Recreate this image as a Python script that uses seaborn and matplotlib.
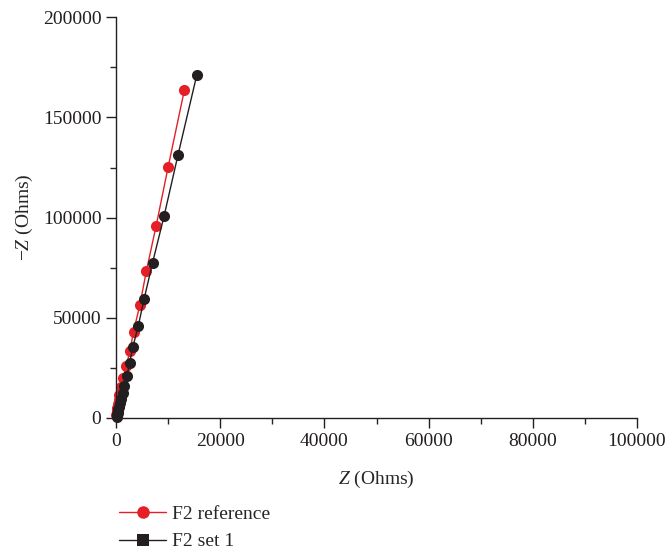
import pandas as pd
import matplotlib
matplotlib.use("Agg")
import matplotlib.pyplot as plt
from matplotlib.lines import Line2D
from matplotlib.ticker import MultipleLocator
import seaborn as sns

# Nyquist data (Ohms)
ref_x = [13100, 10000, 7700, 5840, 4560, 3350, 2640, 1950, 1380, 860,
         650, 480, 360, 270, 200, 150, 110, 80]
ref_y = [163500, 125300, 96000, 73600, 56300, 43100, 33200, 25800, 20000, 15200,
         11600, 8900, 6800, 5200, 4000, 3000, 2300, 1700]

set1_x = [15500, 11900, 9200, 7000, 5400, 4250, 3200, 2600, 2070, 1570,
          1250, 980, 760, 590, 460, 360, 280, 220, 170, 130, 100]
set1_y = [171200, 131400, 100600, 77400, 59600, 45800, 35200, 27300, 20800, 15900,
          12300, 9500, 7300, 5600, 4300, 3300, 2500, 1900, 1400, 1000, 700]

labels = ["F2 reference", "F2 set 1"]
red = "#e41f26"
black = "#231f20"

df_ref = pd.DataFrame({"Z": ref_x, "negZ": ref_y})
df_set1 = pd.DataFrame({"Z": set1_x, "negZ": set1_y})

sns.set_style("ticks")
plt.rcParams["font.family"] = ["Liberation Serif", "DejaVu Serif"]
plt.rcParams["mathtext.fontset"] = "custom"
plt.rcParams["mathtext.rm"] = "Liberation Serif"
plt.rcParams["mathtext.it"] = "Liberation Serif:italic"

fig = plt.figure(figsize=(6.67, 5.58), dpi=100)
ax = fig.add_axes([0.174, 0.251, 0.781, 0.718])

sns.lineplot(data=df_ref, x="Z", y="negZ", sort=False, color=red, marker="o",
             markersize=8, markeredgewidth=0, linewidth=1, ax=ax, clip_on=False)
sns.lineplot(data=df_set1, x="Z", y="negZ", sort=False, color=black, marker="o",
             markersize=8, markeredgewidth=0, linewidth=1, ax=ax, clip_on=False)

ax.set_xlim(0, 100000)
ax.set_ylim(0, 200000)
ax.xaxis.set_major_locator(MultipleLocator(20000))
ax.xaxis.set_minor_locator(MultipleLocator(10000))
ax.yaxis.set_major_locator(MultipleLocator(50000))
ax.yaxis.set_minor_locator(MultipleLocator(25000))
ax.tick_params(which="major", length=7, width=1, labelsize=14, colors="#231f20")
ax.tick_params(which="minor", length=4, width=1)
for s in ["left", "bottom"]:
    ax.spines[s].set_linewidth(1)
    ax.spines[s].set_color("#231f20")
sns.despine(ax=ax)

ax.set_xlabel("$Z$ (Ohms)", fontsize=14, labelpad=14)
ax.set_ylabel("\u2212$Z$ (Ohms)", fontsize=14, labelpad=6)

handles = [
    Line2D([], [], color=red, marker="o", markersize=9, markeredgewidth=0, linewidth=1),
    Line2D([], [], color=black, marker="s", markersize=8, markeredgewidth=0, linewidth=1),
]
fig.legend(handles, labels, loc="upper left", bbox_to_anchor=(0.167, 0.108),
           frameon=False, fontsize=14, handlelength=2.4, handletextpad=0.3,
           labelspacing=0.5, borderaxespad=0)

fig.savefig("out.png", dpi=100)
